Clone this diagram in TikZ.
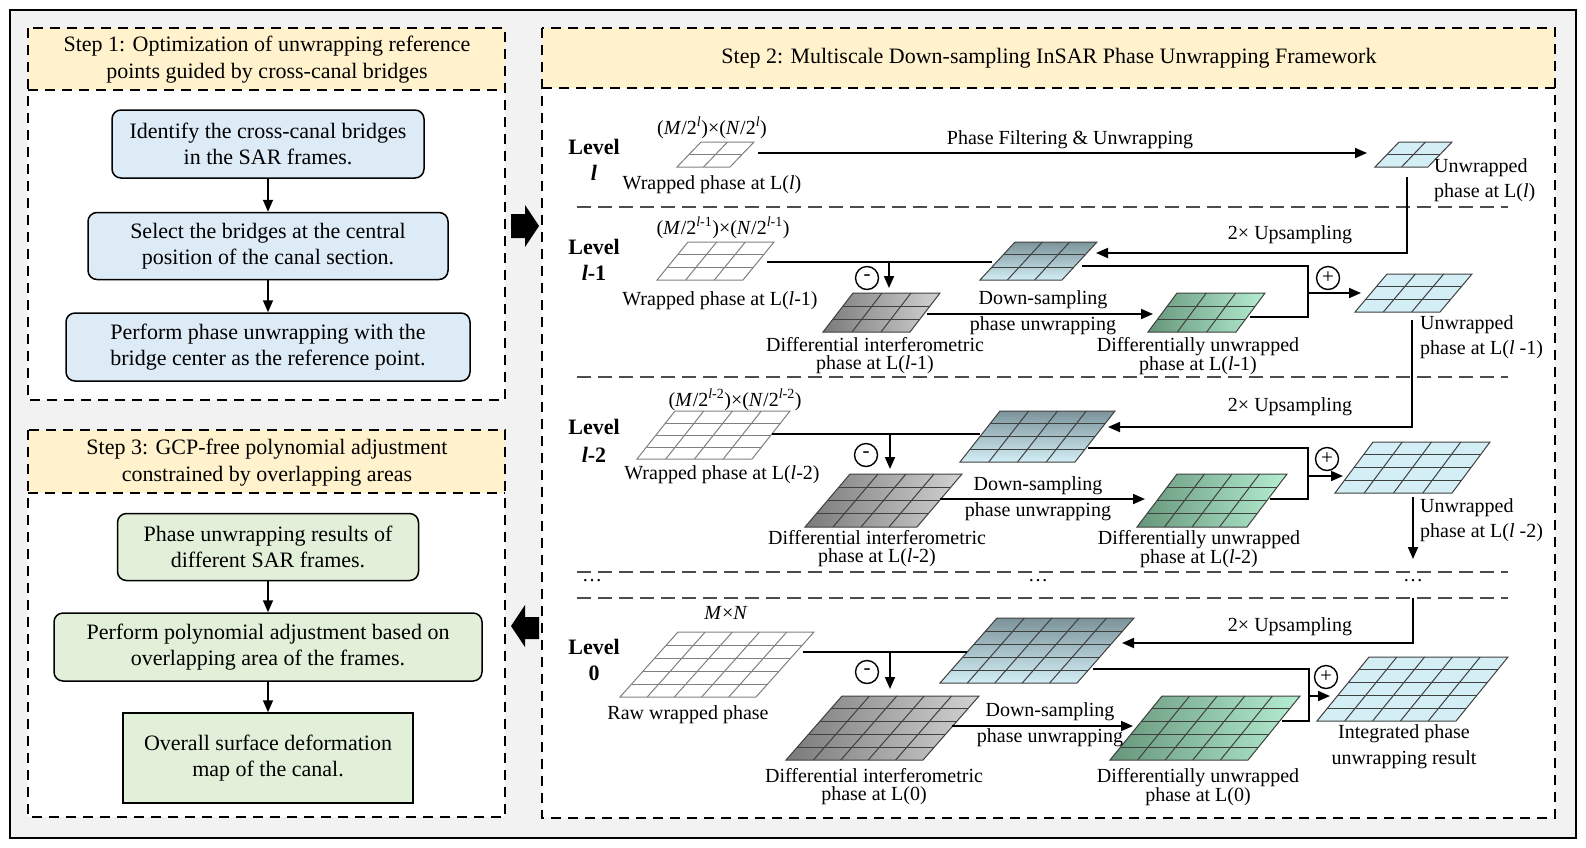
\documentclass[tikz,border=0pt]{standalone}
\usepackage{fontspec}
\setmainfont{Liberation Serif}
\usetikzlibrary{arrows.meta}
\definecolor{outerbg}{HTML}{F2F2F2}
\definecolor{titlebg}{HTML}{FFF2CC}
\definecolor{bluebox}{HTML}{DDEBF7}
\definecolor{greenbox}{HTML}{E2F0D9}
\definecolor{unwrapc}{HTML}{D4EEF5}
\definecolor{upTop}{HTML}{7C939A}
\definecolor{upBot}{HTML}{D2EEF5}
\definecolor{grDark}{HTML}{7A7A7A}
\definecolor{grLight}{HTML}{D2D2D2}
\definecolor{gnDark}{HTML}{66967A}
\definecolor{gnLight}{HTML}{B5EED2}

\newcommand\pgrid[8]{%
 \path[#7] (#1,#2) -- ++(#3,0) -- ++(#5,-#4) -- ++(-#3,0) -- cycle;
 \pgfmathtruncatemacro\gridnm{#6-1}%
 \foreach \k in {1,...,\gridnm}{%
   \draw[#8] ({#1+\k*#5/#6},{#2-\k*#4/#6}) -- ++(#3,0);
   \draw[#8] ({#1+\k*#3/#6},#2) -- ++(#5,-#4);
 }%
 \draw[#8] (#1,#2) -- ++(#3,0) -- ++(#5,-#4) -- ++(-#3,0) -- cycle;
}

\tikzset{
 stepframe/.style={draw=black, line width=2.4pt, dash pattern=on 10pt off 7pt},
 sepline/.style={draw=black!70, line width=1.4pt, dash pattern=on 14pt off 7pt},
 conn/.style={line width=1.8pt},
 arr/.style={conn, -{Triangle[length=12pt,width=10pt]}},
 lbl/.style={font=\fontsize{20}{18}\selectfont, align=center, inner sep=0pt},
 lbl2/.style={font=\fontsize{20}{25}\selectfont, align=center, inner sep=0pt},
 lvl/.style={font=\fontsize{22}{24}\selectfont\bfseries, inner sep=0pt},
 ttl/.style={font=\fontsize{22}{27}\selectfont, align=center, inner sep=0pt},
 bbox/.style={draw=black, line width=1.5pt, rounded corners=9pt, align=center,
   font=\fontsize{22}{26}\selectfont, inner sep=0pt, fill=bluebox},
 gbox/.style={bbox, fill=greenbox},
 opnode/.style={circle, draw=black, line width=1.4pt, minimum size=23pt, inner sep=0pt,
   font=\fontsize{21}{21}\selectfont},
 wline/.style={draw=black!50, line width=1pt},
 dline/.style={draw=black!75, line width=1pt},
 bigarrow/.style={fill=black},
}

\begin{document}
\begin{tikzpicture}[x=1pt, y=-1pt]
\useasboundingbox (0,0) rectangle (1586,847);
% outer frame
\path[fill=outerbg, draw=black, line width=2pt] (10,10) rectangle (1576,838);

% ---------- Step 1 ----------
\fill[titlebg] (28,28) rectangle (505,90);
\fill[white] (28,90) rectangle (505,400);
\draw[stepframe] (28,28) rectangle (505,400);
\draw[stepframe] (28,90) -- (505,90);
\node[ttl] (t1) at (267,60) {Step 1: Optimization of unwrapping reference\\points guided by cross-canal bridges};
\node[bbox, minimum width=312pt, minimum height=68pt] (b1) at (268,144) {Identify the cross-canal bridges\\in the SAR frames.};
\node[bbox, minimum width=360pt, minimum height=67pt] (b2) at (268,246) {Select the bridges at the central\\position of the canal section.};
\node[bbox, minimum width=404pt, minimum height=68pt] (b3) at (268,347) {Perform phase unwrapping with the\\bridge center as the reference point.};
\draw[arr, line width=1.6pt] (b1) -- (b2);
\draw[arr, line width=1.6pt] (b2) -- (b3);

% ---------- Step 3 ----------
\fill[titlebg] (28,430) rectangle (505,493);
\fill[white] (28,493) rectangle (505,817);
\draw[stepframe] (28,430) rectangle (505,817);
\draw[stepframe] (28,493) -- (505,493);
\node[ttl] (t3) at (267,463) {Step 3: GCP-free polynomial adjustment\\constrained by overlapping areas};
\node[gbox, minimum width=301pt, minimum height=67pt] (b4) at (268,547) {Phase unwrapping results of\\different SAR frames.};
\node[gbox, minimum width=428pt, minimum height=68pt] (b5) at (268,647) {Perform polynomial adjustment based on\\overlapping area of the frames.};
\node[gbox, rounded corners=0pt, minimum width=290pt, minimum height=90pt] (b6) at (268,758) {Overall surface deformation\\map of the canal.};
\draw[arr, line width=1.6pt] (b4) -- (b5);
\draw[arr, line width=1.6pt] (b5) -- (b6);

% big arrows
\fill[bigarrow] (511,214) -- (525,214) -- (525,205) -- (539,226) -- (525,247) -- (525,238) -- (511,238) -- cycle;
\fill[bigarrow] (539,617) -- (525,617) -- (525,605) -- (511,626) -- (525,647) -- (525,639) -- (539,639) -- cycle;

% ---------- Step 2 ----------
\fill[titlebg] (542,28) rectangle (1555,88);
\fill[white] (542,88) rectangle (1555,818);
\draw[stepframe] (542,28) rectangle (1555,818);
\draw[stepframe] (542,88) -- (1555,88);
\node[ttl] (t2) at (1049,58) {Step 2: Multiscale Down-sampling InSAR Phase Unwrapping Framework};

% separators
\draw[sepline] (577,207) -- (1508,207);
\draw[sepline] (577,377) -- (1508,377);
\draw[sepline] (577,572) -- (1508,572);
\draw[sepline] (577,598) -- (1508,598);
\node[lbl] (dots1) at (592,581) {…};
\node[lbl] (dots2) at (1038,581) {…};
\node[lbl] (dots3) at (1413,581) {…};

% ===== Level l =====
\node[lvl] (LvA) at (594,147) {Level};
\node[lvl] (LvAb) at (594,173) {\textit{l}};
\node[lbl] (dimA) at (712,128) {(\textit{M}/2\textsuperscript{\textit{l}})×(\textit{N}/2\textsuperscript{\textit{l}})};
\pgrid{677}{167}{53}{25}{24}{2}{fill=white}{wline}
\node[lbl] (wA) at (712,185) {Wrapped phase at L(\textit{l})};
\pgrid{1375}{167}{53}{25}{24}{2}{fill=unwrapc}{dline}
\node[lbl2, align=left, anchor=west] (uA) at (1434,180) {Unwrapped\\phase at L(\textit{l})};
\coordinate (WAe) at (758,153);
\coordinate (UAw) at (1367,153);
\draw[arr] (WAe) -- (UAw);
\node[lbl] (pfu) at (1070,140) {Phase Filtering \& Unwrapping};

% ===== Level l-1 =====
\node[lvl] (LvB) at (594,247) {Level};
\node[lvl] (LvBb) at (594,273) {\textit{l}-1};
\node[lbl] (dimB) at (723,228) {(\textit{M}/2\textsuperscript{\textit{l}-1})×(\textit{N}/2\textsuperscript{\textit{l}-1})};
\pgrid{657}{280}{86}{38}{31}{3}{fill=white}{wline}
\node[lbl] (wB) at (720,301) {Wrapped phase at L(\textit{l}-1)};
\pgrid{980}{280}{82}{38}{35}{3}{top color=upTop, bottom color=upBot}{dline}
\pgrid{823}{332}{87}{39}{30}{3}{left color=grDark, right color=grLight}{dline}
\node[lbl] (dB) at (875,356) {Differential interferometric\\phase at L(\textit{l}-1)};
\pgrid{1148}{332}{88}{39}{29}{3}{left color=gnDark, right color=gnLight}{dline}
\node[lbl] (gB) at (1198,356) {Differentially unwrapped\\phase at L(\textit{l}-1)};
\pgrid{1355}{312}{85}{38}{32}{3}{fill=unwrapc}{dline}
\node[lbl2, align=left, anchor=west] (uB) at (1420,337) {Unwrapped\\phase at L(\textit{l} -1)};
% connectors
\coordinate (WBe) at (767,262); \coordinate (UpBw) at (992,262);
\draw[conn] (WBe) -- (UpBw);
\coordinate (mBt) at (889,262); \coordinate (mBb) at (889,288);
\draw[arr] (mBt) -- (mBb);
\node[opnode] (minusB) at (867,278) {-};
\coordinate (DBe) at (927,314); \coordinate (GBw) at (1153,314);
\draw[arr] (DBe) -- (GBw);
\node[lbl] (dsB1) at (1043,300) {Down-sampling};
\node[lbl] (dsB2) at (1043,326) {phase unwrapping};
\coordinate (UAs) at (1407,177); \coordinate (UpBe) at (1096,253);
\draw[arr] (UAs) |- (UpBe);
\node[lbl] (upsB) at (1290,235) {2× Upsampling};
\coordinate (UpBo) at (1082,266); \coordinate (GBe) at (1250,317); \coordinate (jB) at (1308,266);
\draw[conn] (UpBo) -- (jB) |- (GBe);
\coordinate (jBm) at (1308,293); \coordinate (UBw) at (1361,293);
\draw[arr] (jBm) -- (UBw);
\node[opnode] (plusB) at (1328,278) {+};

% ===== Level l-2 =====
\node[lvl] (LvC) at (594,427) {Level};
\node[lvl] (LvCb) at (594,455) {\textit{l}-2};
\node[lbl] (dimC) at (735,400) {(\textit{M}/2\textsuperscript{\textit{l}-2})×(\textit{N}/2\textsuperscript{\textit{l}-2})};
\pgrid{637}{459}{115}{48}{38}{4}{fill=white}{wline}
\node[lbl] (wC) at (722,475) {Wrapped phase at L(\textit{l}-2)};
\pgrid{960}{462}{115}{51}{40}{4}{top color=upTop, bottom color=upBot}{dline}
\pgrid{805}{527}{112}{53}{45}{4}{left color=grDark, right color=grLight}{dline}
\node[lbl] (dC) at (877,549) {Differential interferometric\\phase at L(\textit{l}-2)};
\pgrid{1137}{527}{110}{53}{40}{4}{left color=gnDark, right color=gnLight}{dline}
\node[lbl] (gC) at (1199,549) {Differentially unwrapped\\phase at L(\textit{l}-2)};
\pgrid{1335}{493}{117}{51}{38}{4}{fill=unwrapc}{dline}
\node[lbl2, align=left, anchor=west] (uC) at (1420,520) {Unwrapped\\phase at L(\textit{l} -2)};
% connectors
\coordinate (WCe) at (772,434); \coordinate (UpCw) at (980,434);
\draw[conn] (WCe) -- (UpCw);
\coordinate (mCt) at (890,434); \coordinate (mCb) at (890,469);
\draw[arr] (mCt) -- (mCb);
\node[opnode] (minusC) at (866,455) {-};
\coordinate (DCe) at (940,499); \coordinate (GCw) at (1145,499);
\draw[arr] (DCe) -- (GCw);
\node[lbl] (dsC1) at (1038,486) {Down-sampling};
\node[lbl] (dsC2) at (1038,512) {phase unwrapping};
\coordinate (UBs) at (1412,320); \coordinate (UpCe) at (1108,427);
\draw[arr] (UBs) |- (UpCe);
\node[lbl] (upsC) at (1290,407) {2× Upsampling};
\coordinate (UpCo) at (1088,448); \coordinate (GCe) at (1270,499); \coordinate (jC) at (1308,448);
\draw[conn] (UpCo) -- (jC) |- (GCe);
\coordinate (jCm) at (1308,476); \coordinate (UCw) at (1343,476);
\draw[arr] (jCm) -- (UCw);
\node[opnode] (plusC) at (1327,459) {+};
\coordinate (UCs) at (1413,497); \coordinate (dotsN) at (1413,559);
\draw[arr] (UCs) -- (dotsN);

% ===== Level 0 =====
\node[lvl] (LvD) at (594,647) {Level};
\node[lvl] (LvDb) at (594,673) {0};
\node[lbl] (dimD) at (726,613) {\textit{M}×\textit{N}};
\pgrid{620}{697}{136}{65}{58}{5}{fill=white}{wline}
\node[lbl] (wD) at (688,715) {Raw wrapped phase};
\pgrid{940}{683}{137}{65}{57}{5}{top color=upTop, bottom color=upBot}{dline}
\pgrid{786}{760}{137}{64}{56}{5}{left color=grDark, right color=grLight}{dline}
\node[lbl] (dD) at (874,787) {Differential interferometric\\phase at L(0)};
\pgrid{1110}{760}{138}{64}{52}{5}{left color=gnDark, right color=gnLight}{dline}
\node[lbl] (gD) at (1198,787) {Differentially unwrapped\\phase at L(0)};
\pgrid{1317}{721}{139}{64}{52}{5}{fill=unwrapc}{dline}
\node[font=\fontsize{20}{26}\selectfont, align=center, inner sep=0pt] (iD) at (1404,747) {Integrated phase\\unwrapping result};
% connectors
\coordinate (WDe) at (803,652); \coordinate (UpDw) at (967,652);
\draw[conn] (WDe) -- (UpDw);
\coordinate (mDt) at (890,652); \coordinate (mDb) at (890,689);
\draw[arr] (mDt) -- (mDb);
\node[opnode] (minusD) at (867,672) {-};
\coordinate (DDe) at (952,726); \coordinate (GDw) at (1133,726);
\draw[arr] (DDe) -- (GDw);
\node[lbl] (dsD1) at (1050,712) {Down-sampling};
\node[lbl] (dsD2) at (1050,738) {phase unwrapping};
\coordinate (dotsS) at (1413,598); \coordinate (UpDe) at (1122,643);
\draw[arr] (dotsS) |- (UpDe);
\node[lbl] (upsD) at (1290,627) {2× Upsampling};
\coordinate (UpDo) at (1093,669); \coordinate (GDe) at (1282,721); \coordinate (jD) at (1309,669);
\draw[conn] (UpDo) -- (jD) |- (GDe);
\coordinate (jDm) at (1309,696); \coordinate (IDw) at (1330,696);
\draw[arr] (jDm) -- (IDw);
\node[opnode] (plusD) at (1326,677) {+};
\end{tikzpicture}
\end{document}
